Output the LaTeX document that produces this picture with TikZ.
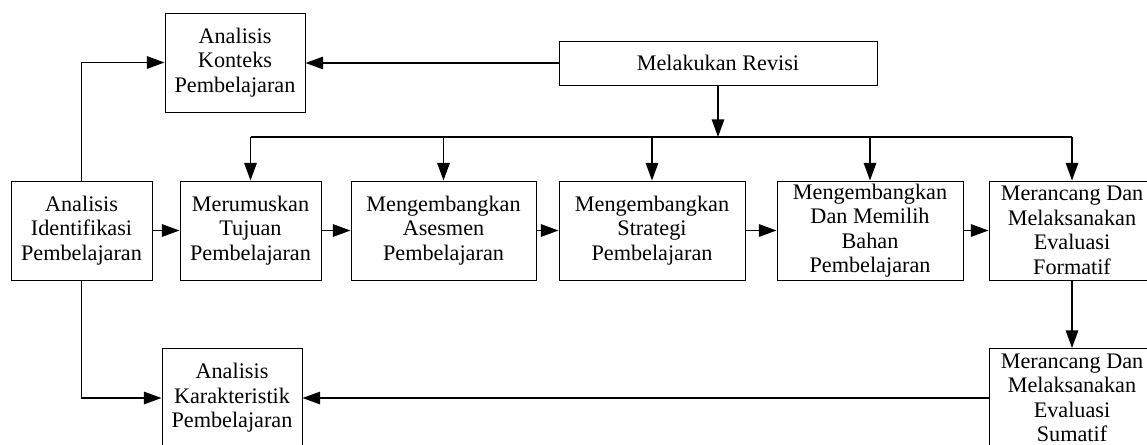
\documentclass[tikz,border=0pt]{standalone}
\usepackage{fontspec}
\setmainfont{Liberation Serif}
\usetikzlibrary{arrows.meta}
\begin{document}
\begin{tikzpicture}[
        kotak/.style = {draw, line width=0.7pt, align=center, inner sep=1pt,
                        minimum height=2.475cm, font=\fontsize{15.8}{17.4}\selectfont},
        panah/.style = {line width=1.2pt, -{Triangle[length=0.44cm,width=0.31cm]}},
        garis/.style = {line width=1.2pt}
    ]
        \useasboundingbox (0,0) rectangle (28.675,11.1);
        \clip (0,0) rectangle (28.675,11.1);

        % baris atas
        \node[kotak, minimum width=3.5cm] (konteks) at (5.875,9.5375) {Analisis\\Konteks\\Pembelajaran};
        \node[kotak, minimum width=7.95cm, minimum height=1.1cm] (revisi) at (17.95,9.525) {Melakukan Revisi};

        % baris tengah
        \node[kotak, minimum width=3.525cm] (identifikasi) at (2.0375,5.3375) {Analisis\\Identifikasi\\Pembelajaran};
        \node[kotak, minimum width=3.525cm] (tujuan) at (6.2625,5.3375) {Merumuskan\\Tujuan\\Pembelajaran};
        \node[kotak, minimum width=4.625cm] (asesmen) at (11.0875,5.3375) {Mengembangkan\\Asesmen\\Pembelajaran};
        \node[kotak, minimum width=4.65cm] (strategi) at (16.3,5.3375) {Mengembangkan\\Strategi\\Pembelajaran};
        \node[kotak, minimum width=4.65cm] (bahan) at (21.75,5.3375) {Mengembangkan\\Dan Memilih\\Bahan\\Pembelajaran};
        \node[kotak, minimum width=4.15cm] (formatif) at (26.8,5.3375) {Merancang Dan\\Melaksanakan\\Evaluasi\\Formatif};

        % baris bawah
        \node[kotak, minimum width=3.5cm] (karakteristik) at (5.8,1.15) {Analisis\\Karakteristik\\Pembelajaran};
        \node[kotak, minimum width=4.15cm] (sumatif) at (26.8,1.15) {Merancang Dan\\Melaksanakan\\Evaluasi\\Sumatif};

        % jalur revisi
        \coordinate (bus) at (revisi.south |- 0,7.675);
        \draw[panah] (revisi.west) -- (revisi.west -| konteks.east);
        \draw[panah] (revisi.south) -- (bus);
        \draw[garis] (tujuan.north |- bus) -- (formatif.north |- bus);
        \foreach \k in {tujuan, asesmen, strategi, bahan, formatif}
            \draw[panah] (\k.north |- bus) -- (\k.north);

        % alur utama
        \draw[panah] (identifikasi.north) |- (konteks.west);
        \draw[panah] (identifikasi.south) |- (karakteristik.west);
        \foreach \a/\b in {identifikasi/tujuan, tujuan/asesmen, asesmen/strategi, strategi/bahan, bahan/formatif}
            \draw[panah] (\a.east) -- (\b.west);
        \draw[panah] (formatif.south) -- (sumatif.north);
        \draw[panah] (sumatif.west) -- (karakteristik.east);
\end{tikzpicture}
\end{document}
